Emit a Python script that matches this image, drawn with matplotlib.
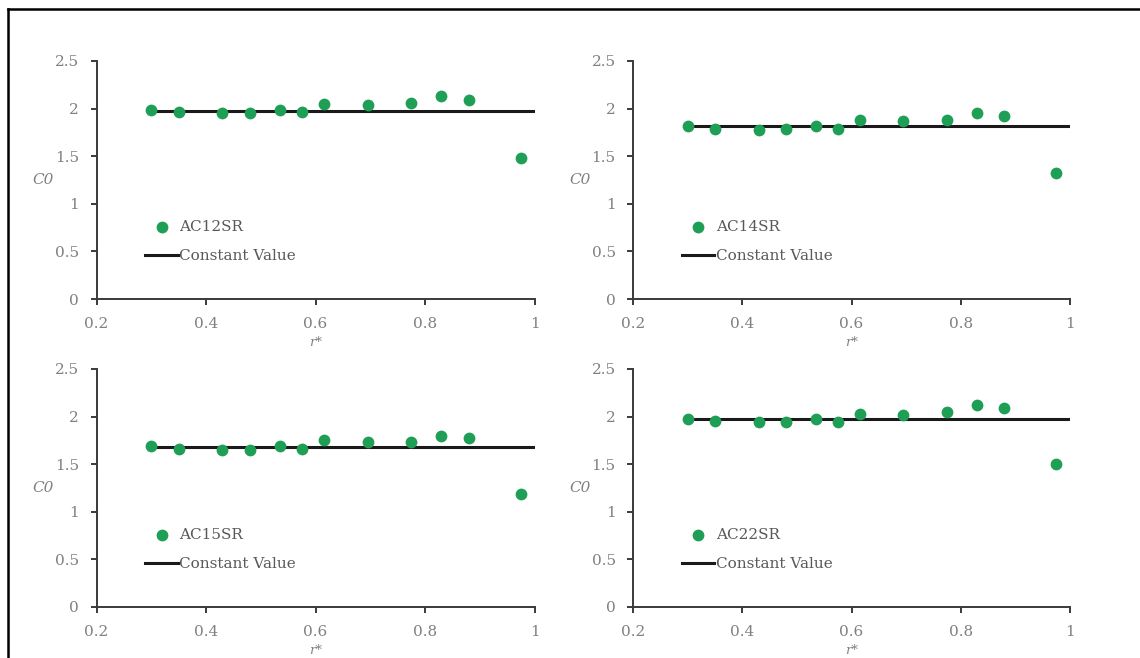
import matplotlib
matplotlib.use("Agg")
import matplotlib.pyplot as plt
from matplotlib.lines import Line2D
from matplotlib.ticker import FuncFormatter

# ---- data ----
r_star = [0.30, 0.35, 0.43, 0.48, 0.535, 0.575, 0.615, 0.695, 0.775, 0.83, 0.88, 0.975]

c0_ac12sr = [1.99, 1.96, 1.95, 1.95, 1.99, 1.96, 2.05, 2.04, 2.06, 2.13, 2.09, 1.48]
c0_ac14sr = [1.82, 1.79, 1.78, 1.79, 1.82, 1.79, 1.88, 1.87, 1.88, 1.95, 1.92, 1.32]
c0_ac15sr = [1.69, 1.66, 1.65, 1.65, 1.69, 1.66, 1.75, 1.73, 1.73, 1.80, 1.77, 1.19]
c0_ac22sr = [1.98, 1.95, 1.94, 1.94, 1.97, 1.94, 2.03, 2.02, 2.05, 2.12, 2.09, 1.50]

const_ac12sr = 1.98
const_ac14sr = 1.815
const_ac15sr = 1.68
const_ac22sr = 1.97
const_x = [0.30, 1.0]

series_names = ["AC12SR", "AC14SR", "AC15SR", "AC22SR"]
series_values = [c0_ac12sr, c0_ac14sr, c0_ac15sr, c0_ac22sr]
const_values = [const_ac12sr, const_ac14sr, const_ac15sr, const_ac22sr]

x_ticks = [0.2, 0.4, 0.6, 0.8, 1.0]
y_ticks = [0, 0.5, 1.0, 1.5, 2.0, 2.5]

# ---- style ----
plt.rcParams["font.family"] = ["DejaVu Serif", "Liberation Serif"]
GREEN = "#1f9e55"
TICK_GREY = "#808080"
AXIS_COL = "#3a3a3a"

W, H = 1140, 658
fig = plt.figure(figsize=(W / 100, H / 100), dpi=100)

def fx(px):
    return px / W

def fy(py):
    return 1 - py / H

panels = [
    (96.5, 534.5, 61, 299),
    (633, 1070, 61, 299),
    (96.5, 534.5, 369, 607),
    (633, 1070, 369, 607),
]

fmt = FuncFormatter(lambda v, p: f"{v:g}")

for (x0, x1, yt, yb), name, vals, cval in zip(panels, series_names, series_values, const_values):
    ax = fig.add_axes([fx(x0), fy(yb), fx(x1) - fx(x0), fy(yt) - fy(yb)])
    ax.scatter(r_star, vals, s=72, color=GREEN, zorder=3, label=name, clip_on=False, linewidths=0)
    ax.plot(const_x, [cval, cval], color="#1a1a1a", lw=2.2, zorder=2, label="Constant Value")
    ax.set_xlim(0.2, 1.0)
    ax.set_ylim(0, 2.5)
    ax.set_xticks(x_ticks)
    ax.set_yticks(y_ticks)
    ax.xaxis.set_major_formatter(fmt)
    ax.yaxis.set_major_formatter(fmt)
    for s in ["top", "right"]:
        ax.spines[s].set_visible(False)
    for s in ["left", "bottom"]:
        ax.spines[s].set_color(AXIS_COL)
        ax.spines[s].set_linewidth(1.4)
    ax.tick_params(axis="both", direction="out", length=4, width=1.4, color=AXIS_COL,
                   labelcolor=TICK_GREY, labelsize=11)
    ax.tick_params(axis="y", pad=8.5)
    ax.tick_params(axis="x", pad=9)
    ax.set_ylabel("C0", rotation=0, style="italic", color=TICK_GREY, fontsize=11,
                  va="center", ha="center")
    ax.yaxis.set_label_coords(-0.122, 0.5)
    ax.set_xlabel("r*", style="italic", color=TICK_GREY, fontsize=9.5)
    ax.xaxis.set_label_coords(0.5, -0.155)
    ax.patch.set_alpha(0)
    leg = ax.legend(loc="upper left", bbox_to_anchor=(0.111, 0.33), frameon=False,
                    borderpad=0, borderaxespad=0, handlelength=2.15, handletextpad=0.1,
                    labelspacing=0.95, fontsize=11, scatterpoints=1)
    for t in leg.get_texts():
        t.set_color("#595959")

# outer frame (top and left edges visible)
fig.add_artist(Line2D([fx(8), 1.0], [fy(9), fy(9)], transform=fig.transFigure, color="black", lw=1.8))
fig.add_artist(Line2D([fx(8), fx(8)], [fy(9), 0.0], transform=fig.transFigure, color="black", lw=1.8))

fig.savefig("out.png", dpi=100, facecolor="white")
